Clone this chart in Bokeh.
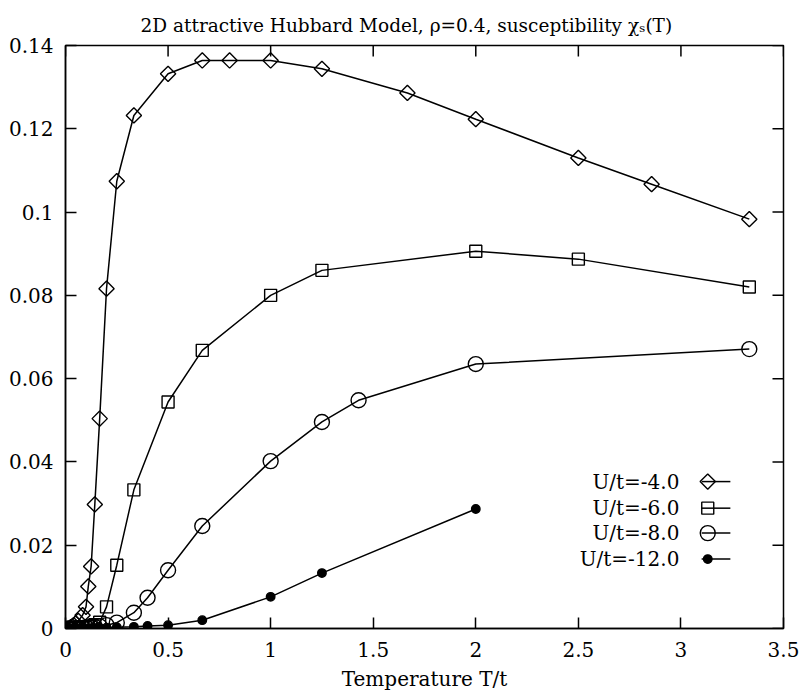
import numpy as np
from bokeh.plotting import figure
from bokeh.models import Range1d, FixedTicker, Title
from bokeh.core.properties import value
from bokeh.embed import file_html
from bokeh.resources import INLINE

# ---------------- data ----------------
T_u4 = [0.025, 0.0333, 0.04, 0.05, 0.0625, 0.0833, 0.1, 0.1111, 0.125, 0.1429, 0.1667,
        0.2, 0.25, 0.3333, 0.5, 0.6667, 0.8, 1.0, 1.25, 1.6667, 2.0, 2.5, 2.8571, 3.3333]
chi_u4 = [0.0003, 0.0005, 0.0008, 0.0012, 0.0018, 0.0032, 0.0052, 0.0101, 0.0149, 0.0298, 0.0504,
          0.0816, 0.1074, 0.1232, 0.1332, 0.1364, 0.1364, 0.1364, 0.1344, 0.1286, 0.1223, 0.1130, 0.1067, 0.0983]

T_u6 = [0.025, 0.05, 0.0625, 0.0833, 0.1, 0.1111, 0.125, 0.1429, 0.1667, 0.2, 0.25,
        0.3333, 0.5, 0.6667, 1.0, 1.25, 2.0, 2.5, 3.3333]
chi_u6 = [0.0001, 0.0002, 0.0002, 0.0003, 0.0004, 0.0005, 0.0006, 0.0009, 0.0015, 0.0052, 0.0152,
          0.0333, 0.0544, 0.0668, 0.0800, 0.0860, 0.0906, 0.0887, 0.0820]

T_u8 = [0.0125, 0.025, 0.05, 0.0625, 0.0833, 0.1, 0.125, 0.1429, 0.1667, 0.2, 0.25,
        0.3333, 0.4, 0.5, 0.6667, 1.0, 1.25, 1.4286, 2.0, 3.3333]
chi_u8 = [0.0, 0.0, 0.0001, 0.0001, 0.0001, 0.0002, 0.0003, 0.0004, 0.0005, 0.0008, 0.0014,
          0.0038, 0.0074, 0.0140, 0.0246, 0.0402, 0.0496, 0.0548, 0.0635, 0.0671]

T_u12 = [0.0125, 0.025, 0.05, 0.0625, 0.0833, 0.1, 0.125, 0.1429, 0.1667, 0.2, 0.25,
         0.3333, 0.4, 0.5, 0.6667, 1.0, 1.25, 2.0]
chi_u12 = [0.0, 0.0, 0.0, 0.0, 0.0, 0.0, 0.0001, 0.0001, 0.0001, 0.0002, 0.0003,
           0.0004, 0.0006, 0.0008, 0.0020, 0.0076, 0.0133, 0.0287]

series_labels = ["U/t=-4.0", "U/t=-6.0", "U/t=-8.0", "U/t=-12.0"]

x_ticks = [0, 0.5, 1, 1.5, 2, 2.5, 3, 3.5]
x_tick_labels = ["0", "0.5", "1", "1.5", "2", "2.5", "3", "3.5"]
y_ticks = [0, 0.02, 0.04, 0.06, 0.08, 0.1, 0.12, 0.14]
y_tick_labels = ["0", "0.02", "0.04", "0.06", "0.08", "0.1", "0.12", "0.14"]

title_text = "2D attractive Hubbard Model, \u03c1=0.4, susceptibility \u03c7\u209b(T)"
x_label = "Temperature T/t"

# ---------------- styling ----------------
FONT = "DejaVu Serif"
FS = "20px"
X0, X1 = 0, 3.5
Y0, Y1 = 0, 0.14
FW, FH = 718, 583
TICK = 11  # px, inward

p = figure(frame_width=FW, frame_height=FH,
           x_range=Range1d(X0, X1), y_range=Range1d(Y0, Y1),
           output_backend="svg", toolbar_location=None,
           min_border_left=65, min_border_right=16,
           min_border_top=45, min_border_bottom=64,
           background_fill_color="white", border_fill_color="white")
p.grid.visible = False
p.outline_line_color = "black"
p.outline_line_width = 1.5

p.title = Title(text=title_text, align="left", offset=75,
                text_font=FONT, text_font_size="18.5px", text_font_style="normal",
                text_color="black", standoff=20)

xa = p.below[0]
ya = p.left[0]


def style_axis(ax, ticks, labels):
    ax.ticker = FixedTicker(ticks=ticks)
    ax.major_label_overrides = {t: l for t, l in zip(ticks, labels)}
    ax.major_tick_in = TICK
    ax.major_tick_out = 0
    ax.minor_tick_line_color = None
    ax.major_tick_line_color = "black"
    ax.major_tick_line_width = 1.5
    ax.axis_line_color = "black"
    ax.axis_line_width = 1.5
    ax.major_label_text_font = FONT
    ax.major_label_text_color = "black"
    ax.major_label_text_font_size = FS


style_axis(xa, x_ticks, x_tick_labels)
xa.major_label_standoff = 13
xa.axis_label = x_label
xa.axis_label_text_font = FONT
xa.axis_label_text_font_size = FS
xa.axis_label_text_font_style = "normal"
xa.axis_label_text_color = "black"
xa.axis_label_standoff = 7

style_axis(ya, y_ticks, y_tick_labels)
ya.major_label_standoff = 12

# mirror ticks on the top and right edges (inward)
dy = TICK * (Y1 - Y0) / FH
dx = TICK * (X1 - X0) / FW
p.segment(x0=x_ticks, y0=[Y1] * len(x_ticks), x1=x_ticks, y1=[Y1 - dy] * len(x_ticks),
          line_color="black", line_width=1.5)
p.segment(x0=[X1] * len(y_ticks), y0=y_ticks, x1=[X1 - dx] * len(y_ticks), y1=y_ticks,
          line_color="black", line_width=1.5)

# ---------------- series ----------------
series = [
    (T_u4, chi_u4, dict(marker="square", size=10.8, angle=np.pi / 4, fill_color=None)),
    (T_u6, chi_u6, dict(marker="square", size=12, angle=0, fill_color=None)),
    (T_u8, chi_u8, dict(marker="circle", size=15, angle=0, fill_color=None)),
    (T_u12, chi_u12, dict(marker="circle", size=8.5, angle=0, fill_color="black")),
]

for T, chi, mk in series:
    p.line(T, chi, line_color="black", line_width=1.5)
    p.scatter(T, chi, line_color="black", line_width=1.4, **mk)

# ---------------- key (text on the left, sample on the right) ----------------
key_text_fx = 0.855
key_mark_fx = 0.8945
key_line_fx = (0.886, 0.926)
key_row_fy = [0.2520, 0.2064, 0.1636, 0.1190]


def fx(f):
    return X0 + f * (X1 - X0)


def fy(f):
    return Y0 + f * (Y1 - Y0)


p.text(x=[fx(key_text_fx)] * 4, y=[fy(f) for f in key_row_fy], text=series_labels,
       text_align="right", text_baseline="middle",
       text_font=value(FONT), text_font_size=FS, text_color="black")
for (T, chi, mk), f in zip(series, key_row_fy):
    p.segment(x0=[fx(key_line_fx[0])], y0=[fy(f)], x1=[fx(key_line_fx[1])], y1=[fy(f)],
              line_color="black", line_width=1.5)
    p.scatter([fx(key_mark_fx)], [fy(f)], line_color="black", line_width=1.4, **mk)

open("out.html", "w").write(file_html(p, INLINE))
